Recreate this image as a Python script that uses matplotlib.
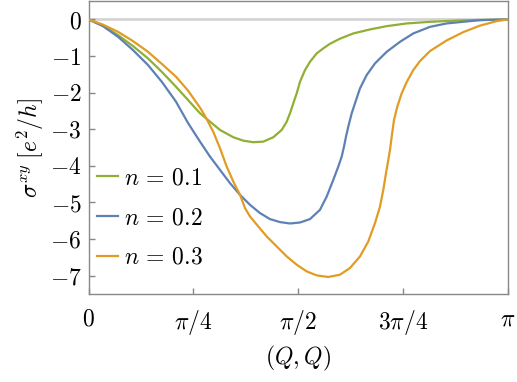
import numpy as np
import matplotlib
matplotlib.use("Agg")
import matplotlib.pyplot as plt

plt.rcParams['mathtext.fontset'] = 'cm'
plt.rcParams['font.family'] = 'serif'
plt.rcParams['font.serif'] = ['cmr10', 'DejaVu Serif']
plt.rcParams['axes.formatter.use_mathtext'] = True

# n = 0.1 (green)
x_green = [0.0, 0.1087, 0.2211, 0.3335, 0.4459, 0.5508, 0.6557, 0.8356, 0.9105, 0.9855,
           1.0852, 1.1601, 1.2350, 1.3100, 1.3849, 1.4479, 1.4854, 1.5101, 1.5348,
           1.5603, 1.5850, 1.6225, 1.6600, 1.7102, 1.7596, 1.8098, 1.8848, 1.9845,
           2.1096, 2.2348, 2.3846, 2.5593, 2.7841, 3.1416]
y_green = [0.0, -0.169, -0.428, -0.728, -1.064, -1.437, -1.838, -2.563, -2.792, -3.019,
           -3.218, -3.311, -3.354, -3.338, -3.218, -3.019, -2.792, -2.563, -2.291,
           -2.018, -1.702, -1.383, -1.156, -0.927, -0.790, -0.665, -0.525, -0.382,
           -0.273, -0.183, -0.109, -0.065, -0.027, 0.0]

# n = 0.2 (blue)
x_blue = [0.0, 0.1087, 0.2211, 0.3335, 0.4459, 0.5508, 0.6557, 0.7457, 0.8356, 0.9105,
          0.9855, 1.0604, 1.1354, 1.2103, 1.2853, 1.3602, 1.4351, 1.5101, 1.5850,
          1.6600, 1.7349, 1.7851, 1.8346, 1.8720, 1.8975, 1.9148, 1.9298, 1.9470,
          1.9725, 1.9972, 2.0347, 2.0849, 2.1471, 2.2348, 2.3344, 2.4341, 2.5593,
          2.6844, 2.9340, 3.1416]
y_blue = [0.0, -0.183, -0.474, -0.837, -1.246, -1.710, -2.247, -2.828, -3.338, -3.747,
          -4.110, -4.472, -4.791, -5.064, -5.290, -5.454, -5.536, -5.574, -5.547,
          -5.454, -5.200, -4.838, -4.382, -4.020, -3.747, -3.474, -3.201, -2.929,
          -2.563, -2.291, -1.882, -1.519, -1.200, -0.884, -0.611, -0.382, -0.202,
          -0.109, -0.019, 0.0]

# n = 0.3 (orange)
x_orange = [0.0, 0.1087, 0.2211, 0.3335, 0.4459, 0.5508, 0.6557, 0.7457, 0.8356, 0.8731,
            0.9353, 0.9855, 1.0357, 1.0852, 1.1354, 1.1728, 1.2103, 1.2725, 1.3355,
            1.4104, 1.4854, 1.5603, 1.6352, 1.7102, 1.7971, 1.8848, 1.9597, 2.0347,
            2.0969, 2.1471, 2.1846, 2.2093, 2.2295, 2.2468, 2.2595, 2.2723, 2.2895,
            2.3142, 2.3472, 2.3846, 2.4341, 2.4843, 2.5593, 2.6844, 2.8088, 2.9340,
            3.0592, 3.1416]
y_orange = [0.0, -0.142, -0.338, -0.592, -0.884, -1.219, -1.565, -1.943, -2.410, -2.635,
            -3.070, -3.520, -4.020, -4.429, -4.791, -5.154, -5.383, -5.656, -5.928,
            -6.201, -6.474, -6.700, -6.883, -6.992, -7.036, -6.973, -6.790, -6.474,
            -6.065, -5.563, -5.110, -4.655, -4.200, -3.837, -3.564, -3.201, -2.746,
            -2.383, -2.018, -1.710, -1.383, -1.137, -0.864, -0.573, -0.346, -0.169,
            -0.046, 0.0]

series_labels = [r'$n\,=\,0.1$', r'$n\,=\,0.2$', r'$n\,=\,0.3$']
x_ticks = [0, np.pi / 4, np.pi / 2, 3 * np.pi / 4, np.pi]
x_ticklabels = [r'$0$', r'$\pi/4$', r'$\pi/2$', r'$3\pi/4$', r'$\pi$']
y_ticks = [0, -1, -2, -3, -4, -5, -6, -7]
y_ticklabels = [r'$0$', r'$-1$', r'$-2$', r'$-3$', r'$-4$', r'$-5$', r'$-6$', r'$-7$']

FS = 17
fig = plt.figure(figsize=(5.17, 3.82), dpi=100)
ax = fig.add_axes([0.1712, 0.2304, 0.982 - 0.1712, 0.997 - 0.2304])

ax.axhline(0, color='#d4d4d4', lw=2.0, zorder=1)
lw = 1.6
ax.plot(x_green, y_green, color='#8FB032', lw=lw, label=series_labels[0], zorder=3)
ax.plot(x_blue, y_blue, color='#5E81B5', lw=lw, label=series_labels[1], zorder=3)
ax.plot(x_orange, y_orange, color='#E19C24', lw=lw, label=series_labels[2], zorder=3)

ax.set_xlim(0, np.pi)
ax.set_ylim(-7.5, 0.5)
ax.set_xticks(x_ticks)
ax.set_xticklabels(x_ticklabels, fontsize=FS)
ax.set_yticks(y_ticks)
ax.set_yticklabels(y_ticklabels, fontsize=FS)

for s in ax.spines.values():
    s.set_color('#888888')
    s.set_linewidth(1.0)
ax.tick_params(axis='x', direction='in', length=4, width=1, color='#888888', pad=10)
ax.tick_params(axis='y', direction='in', length=4, width=1, color='#888888', pad=5)

ax.set_xlabel(r'$(Q,Q)$', fontsize=FS, labelpad=5)
ax.set_ylabel(r'$\sigma^{xy}\;[e^2/h]$', fontsize=FS, labelpad=3)

leg = ax.legend(loc='center left', bbox_to_anchor=(0.0203, 0.2594), frameon=False,
                fontsize=FS, handlelength=0.9, handletextpad=0.25, labelspacing=0.75,
                borderaxespad=0.0, borderpad=0.0)

fig.savefig('out.png', dpi=100)
